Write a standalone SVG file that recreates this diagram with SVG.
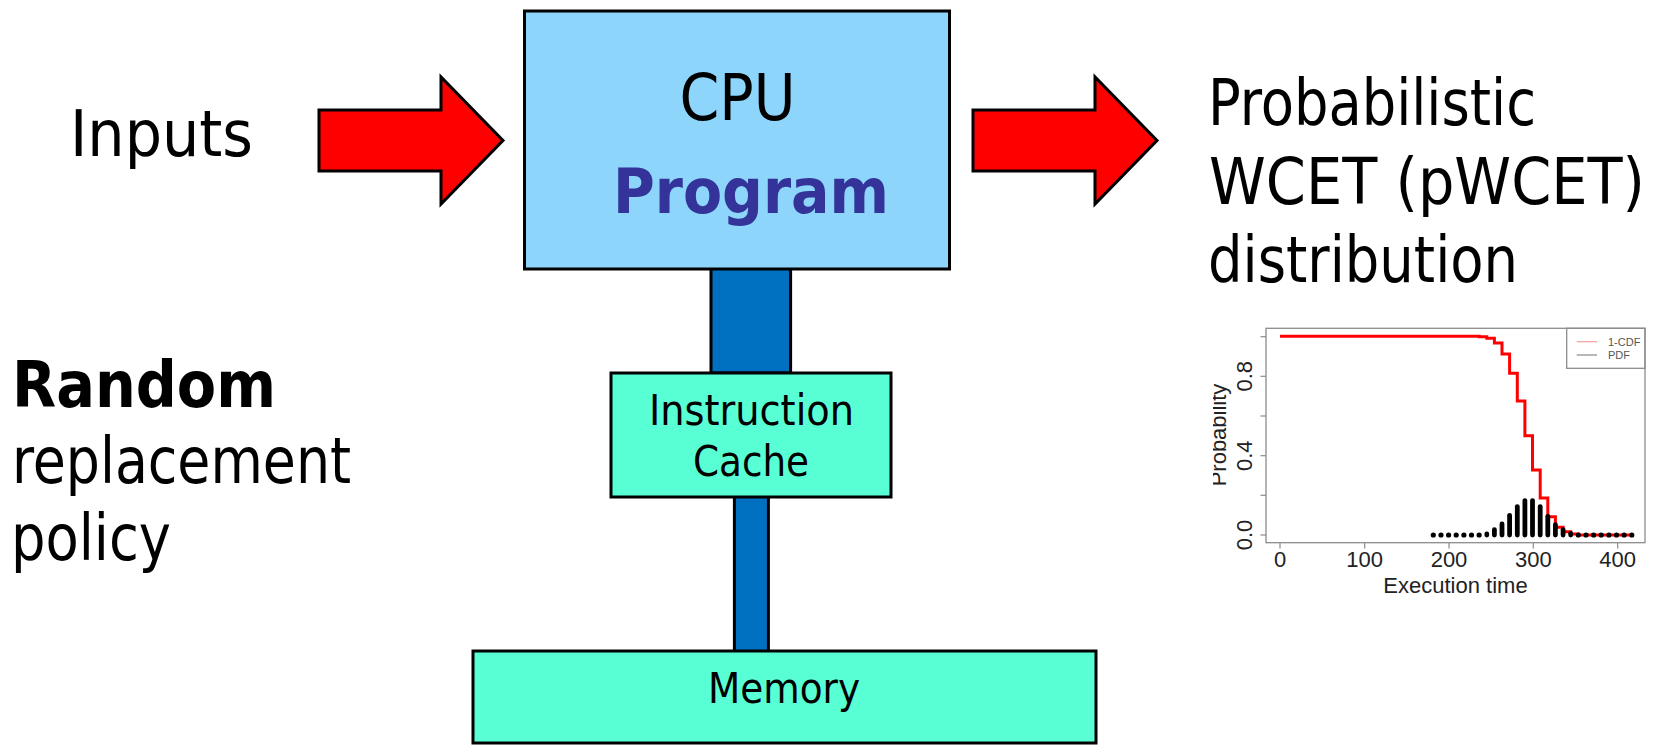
<svg xmlns="http://www.w3.org/2000/svg" width="1671" height="750" viewBox="0 0 1671 750">
  <defs>
    <style>
      .t { font-family: 'DejaVu Sans Condensed', 'DejaVu Sans', sans-serif; font-stretch: condensed; fill: #000; }
      .big { font-size: 64px; }
      .mid { font-size: 42px; }
      .b { font-weight: bold; }
      .box { stroke: #000; stroke-width: 3; }
      .cpu { fill: #8dd5fb; }
      .mem { fill: #58ffd4; }
      .bus { fill: #0070c0; stroke: #000; stroke-width: 3; }
      .arrow { fill: #ff0000; stroke: #000; stroke-width: 3; stroke-linejoin: miter; }
      .ax { font-family: 'Liberation Sans', Arial, sans-serif; fill: #222; }
      .frame { fill: none; stroke: #8c8c8c; stroke-width: 1.3; }
      .tick { stroke: #8c8c8c; stroke-width: 1.2; }
      .bar { stroke: #000; stroke-width: 4.8; stroke-linecap: round; }
    </style>
    <clipPath id="ylabClip">
      <rect x="1213" y="300" width="60" height="300"/>
    </clipPath>
  </defs>

  <!-- buses between blocks -->
  <g id="connectors">
    <rect class="bus" x="711" y="268" width="79.6" height="105"/>
    <rect class="bus" x="734.4" y="496" width="34" height="156"/>
    <polygon id="arrow-in" class="arrow" points="319,110 441,110 441,77 503,140.5 441,204 441,171 319,171"/>
    <polygon id="arrow-out" class="arrow" points="973,110 1095,110 1095,77 1157,140.5 1095,204 1095,171 973,171"/>
  </g>

  <g id="cpu">
    <rect class="box cpu" x="524.5" y="11" width="425" height="258"/>
    <text class="t big" x="737.4" y="120" text-anchor="middle" textLength="116" lengthAdjust="spacingAndGlyphs">CPU</text>
    <text class="t b" x="751" y="213" font-size="62" text-anchor="middle" style="fill:#333399" textLength="276" lengthAdjust="spacingAndGlyphs">Program</text>
  </g>

  <g id="cache">
    <rect class="box mem" x="611" y="373" width="280" height="124"/>
    <text class="t mid" x="751.5" y="425" text-anchor="middle" textLength="205" lengthAdjust="spacingAndGlyphs">Instruction</text>
    <text class="t mid" x="751" y="476" text-anchor="middle" textLength="116" lengthAdjust="spacingAndGlyphs">Cache</text>
  </g>

  <g id="memory">
    <rect class="box mem" x="473" y="651" width="623" height="92"/>
    <text class="t mid" x="784" y="703" text-anchor="middle" textLength="152" lengthAdjust="spacingAndGlyphs">Memory</text>
  </g>

  <g id="inputs">
    <text class="t big" x="70" y="156" textLength="183" lengthAdjust="spacingAndGlyphs">Inputs</text>
  </g>

  <g id="policy">
    <text class="t big b" x="12" y="407" textLength="264" lengthAdjust="spacingAndGlyphs">Random</text>
    <text class="t big" x="12" y="483" textLength="339" lengthAdjust="spacingAndGlyphs">replacement</text>
    <text class="t big" x="11" y="560" textLength="160" lengthAdjust="spacingAndGlyphs">policy</text>
  </g>

  <g id="pwcet">
    <text class="t big" x="1208" y="125" textLength="328" lengthAdjust="spacingAndGlyphs">Probabilistic</text>
    <text class="t big" x="1209" y="204" textLength="436" lengthAdjust="spacingAndGlyphs">WCET (pWCET)</text>
    <text class="t big" x="1208" y="282" textLength="310" lengthAdjust="spacingAndGlyphs">distribution</text>
  </g>

  <!-- execution time plot: 1-CDF step curve and PDF bars -->
  <g id="chart">
    <rect x="1266" y="328.3" width="379" height="214.4" fill="#fff"/>
    <g class="tick">
      <!-- y axis -->
      <line x1="1260.5" y1="535" x2="1266" y2="535"/>
      <line x1="1260.5" y1="495.3" x2="1266" y2="495.3"/>
      <line x1="1260.5" y1="455.7" x2="1266" y2="455.7"/>
      <line x1="1260.5" y1="416" x2="1266" y2="416"/>
      <line x1="1260.5" y1="376.3" x2="1266" y2="376.3"/>
      <line x1="1260.5" y1="336.7" x2="1266" y2="336.7"/>
      <!-- x axis -->
      <line x1="1280" y1="542.7" x2="1280" y2="548.5"/>
      <line x1="1364.7" y1="542.7" x2="1364.7" y2="548.5"/>
      <line x1="1449" y1="542.7" x2="1449" y2="548.5"/>
      <line x1="1533.3" y1="542.7" x2="1533.3" y2="548.5"/>
      <line x1="1617.7" y1="542.7" x2="1617.7" y2="548.5"/>
    </g>
    <g class="ax" font-size="22" text-anchor="middle">
      <text transform="translate(1251.5,535) rotate(-90)">0.0</text>
      <text transform="translate(1251.5,455.7) rotate(-90)">0.4</text>
      <text transform="translate(1251.5,376.3) rotate(-90)">0.8</text>
      <text x="1280" y="566.7">0</text>
      <text x="1364.7" y="566.7">100</text>
      <text x="1449" y="566.7">200</text>
      <text x="1533.3" y="566.7">300</text>
      <text x="1617.7" y="566.7">400</text>
      <text x="1455.5" y="593">Execution time</text>
      <g clip-path="url(#ylabClip)">
        <text transform="translate(1226,435) rotate(-90)">Probability</text>
      </g>
    </g>

    <!-- 1-CDF -->
    <path fill="none" stroke="#ff0000" stroke-width="3" stroke-linejoin="miter"
      d="M1280,336.3 H1479.1 V336.7 H1486.8 V338.3 H1494.4 V343 H1502 V354 H1509.6 V373.3 H1517.3 V401 H1524.9 V435.7 H1532.5 V470 H1540.2 V498 H1547.8 V516.7 H1555.4 V527.3 H1563.1 V531.7 H1570.7 V534 H1578.3 V535 H1631.8"/>

    <!-- PDF -->
    <g class="bar">
      <line x1="1486.8" y1="535" x2="1486.8" y2="534"/>
      <line x1="1494.4" y1="535" x2="1494.4" y2="529.6"/>
      <line x1="1502" y1="535" x2="1502" y2="524"/>
      <line x1="1509.6" y1="535" x2="1509.6" y2="515.3"/>
      <line x1="1517.3" y1="535" x2="1517.3" y2="506.6"/>
      <line x1="1524.9" y1="535" x2="1524.9" y2="500.6"/>
      <line x1="1532.5" y1="535" x2="1532.5" y2="500.6"/>
      <line x1="1540.2" y1="535" x2="1540.2" y2="506.6"/>
      <line x1="1547.8" y1="535" x2="1547.8" y2="516.3"/>
      <line x1="1555.4" y1="535" x2="1555.4" y2="524.6"/>
      <line x1="1563.1" y1="535" x2="1563.1" y2="529.6"/>
      <line x1="1570.7" y1="535" x2="1570.7" y2="533.3"/>
    </g>
    <g fill="#000">
      <circle cx="1433.3" cy="535" r="2.6"/>
      <circle cx="1441" cy="535" r="2.6"/>
      <circle cx="1448.6" cy="535" r="2.6"/>
      <circle cx="1456.2" cy="535" r="2.6"/>
      <circle cx="1463.9" cy="535" r="2.6"/>
      <circle cx="1471.5" cy="535" r="2.6"/>
      <circle cx="1479.1" cy="535" r="2.6"/>
      <circle cx="1578.3" cy="535" r="2.6"/>
      <circle cx="1586" cy="535" r="2.6"/>
      <circle cx="1593.6" cy="535" r="2.6"/>
      <circle cx="1601.2" cy="535" r="2.6"/>
      <circle cx="1608.9" cy="535" r="2.6"/>
      <circle cx="1616.5" cy="535" r="2.6"/>
      <circle cx="1624.1" cy="535" r="2.6"/>
      <circle cx="1631.8" cy="535" r="2.6"/>
    </g>

    <!-- legend -->
    <rect class="frame" x="1566.7" y="328.3" width="78.3" height="40"/>
    <line x1="1576.7" y1="341.7" x2="1597" y2="341.7" stroke="#f2a0a0" stroke-width="1.2"/>
    <line x1="1576.7" y1="355" x2="1597" y2="355" stroke="#888" stroke-width="1.2"/>
    <g class="ax" font-size="11" style="fill:#555">
      <text x="1608" y="345.7">1-CDF</text>
      <text x="1608" y="358.5">PDF</text>
    </g>

    <rect class="frame" x="1266" y="328.3" width="379" height="214.4"/>
  </g>
</svg>
